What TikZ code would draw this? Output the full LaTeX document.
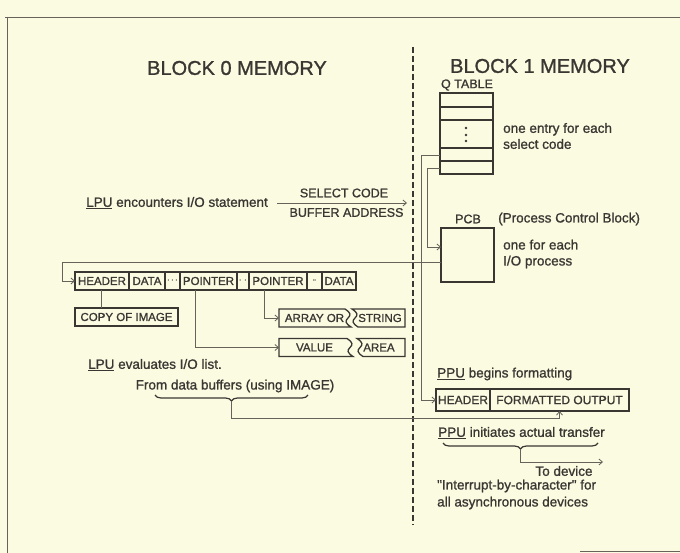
\documentclass[tikz,border=0pt]{standalone}
\usepackage{fontspec}
\setmainfont{Liberation Sans}
\newfontfamily\inkfont{Liberation Sans}[FakeBold=1.1]
\usetikzlibrary{arrows.meta, positioning, calc, decorations.pathreplacing}
\definecolor{paper}{HTML}{FBFBE2}
\definecolor{ink}{HTML}{3A3632}
\definecolor{wirec}{HTML}{67635B}

\begin{document}
\begin{tikzpicture}[x=1pt, y=-1pt, >={Straight Barb[length=3.5pt,width=6pt]},
    txt/.style={font=\inkfont\fontsize{13.5}{16}\selectfont, text=ink, inner sep=0pt, align=left},
    captxt/.style={font=\inkfont\fontsize{12.5}{15}\selectfont, text=ink, inner sep=0pt},
    ttl/.style={font=\inkfont\fontsize{20}{24}\selectfont, text=ink, inner sep=0pt},
    cell/.style={draw=ink, line width=1.3pt, inner sep=0pt, outer sep=0pt, minimum height=18pt,
                 font=\inkfont\fontsize{11.5}{13}\selectfont, text=ink},
    wire/.style={draw=wirec, line width=0.8pt},
    hbrace/.style={draw=ink, line width=1.2pt, decorate, decoration={brace, mirror, amplitude=6pt}}]
    \fill[paper] (0,0) rectangle (680,553);
    \useasboundingbox (0,0) rectangle (680,553);

    % page frame and the memory divider
    \draw[wirec, line width=0.9pt] (5,17) -- (680,17);
    \draw[wirec, line width=0.9pt] (7,17) -- (7,553);
    \draw[wirec, line width=0.9pt] (580,551) -- (680,551);
    \draw[ink, line width=1.3pt, dash pattern=on 6pt off 3pt] (413,47) -- (413,525);

    \node[ttl] (blk0) at (237,68) {BLOCK 0 MEMORY};
    \node[ttl] (blk1) at (540,66) {BLOCK 1 MEMORY};

    % Q table
    \node[captxt] (qlab) at (467,85) {Q TABLE};
    \node[cell, minimum width=53pt, minimum height=81pt] (qtab) at (466.5,133.5) {};
    \foreach \ry in {107,120,148,161}
        \draw[ink, line width=1.3pt] (qtab.west |- 0,\ry) -- (qtab.east |- 0,\ry);
    \foreach \dy in {128,135,141}
        \fill[ink] (466,\dy) circle (1.4pt);
    \node[txt, anchor=west] (qnote) at (503,136) {one entry for each\\select code};

    % PCB
    \node[captxt] (pcblab) at (468,219) {PCB};
    \node[txt, anchor=west] (pcbname) at (498,219) {(Process Control Block)};
    \node[cell, minimum width=53pt, minimum height=54pt] (pcb) at (467.5,255) {};
    \node[txt, anchor=west] (pcbnote) at (503,254) {one for each\\I/O process};

    % LPU side
    \node[txt, anchor=east] (lpuenc) at (268,203) {\underline{LPU} encounters I/O statement};
    \coordinate (selend) at (407,203);
    \draw[wire, ->] (lpuenc.east) ++(9,0) -- (selend);
    \node[captxt] (selc) at (344,193) {SELECT CODE};
    \node[captxt] (bufa) at (346.5,212.5) {BUFFER ADDRESS};

    \node[cell, minimum width=54pt] (hdr) at (102,281) {HEADER};
    \node[cell, minimum width=36pt, right=0pt of hdr] (dat1) {DATA};
    \node[cell, minimum width=15pt, right=0pt of dat1] (gap1) {$\cdot\!\cdot\!\cdot$};
    \node[cell, minimum width=57pt, right=0pt of gap1] (ptr1) {POINTER};
    \node[cell, minimum width=12pt, right=0pt of ptr1] (gap2) {$\cdot\,\cdot$};
    \node[cell, minimum width=58pt, right=0pt of gap2] (ptr2) {POINTER};
    \node[cell, minimum width=15pt, right=0pt of ptr2] (gap3) {$\cdot\!\cdot$};
    \node[cell, minimum width=34pt, right=0pt of gap3] (dat2) {DATA};

    \node[cell, minimum width=103pt] (copy) at (126.5,317) {COPY OF IMAGE};

    \node[cell, draw=none, minimum width=71pt] (arr) at (314.5,318) {ARRAY OR};
    \node[cell, draw=none, minimum width=50pt] (str) at (380,318) {STRING};
    \node[cell, draw=none, minimum width=71pt] (val) at (314.5,347.5) {VALUE};
    \node[cell, draw=none, minimum width=48pt] (area) at (379,347.5) {AREA};
    % broken ends of the variable areas
    \draw[ink, line width=1.3pt] (279,309) -- (345,309) .. controls (351,313) and (351,315) .. (348,318)
        .. controls (345,321) and (345,323) .. (351,327) -- (279,327) -- cycle;
    \draw[ink, line width=1.3pt] (405,309) -- (352,309) .. controls (358,313) and (358,315) .. (355,318)
        .. controls (352,321) and (352,323) .. (358,327) -- (405,327) -- cycle;
    \draw[ink, line width=1.3pt] (279,338.5) -- (347,338.5) .. controls (353,342.5) and (353,344.5) .. (350,347.5)
        .. controls (347,350.5) and (347,352.5) .. (353,356.5) -- (279,356.5) -- cycle;
    \draw[ink, line width=1.3pt] (405,338.5) -- (357,338.5) .. controls (363,342.5) and (363,344.5) .. (360,347.5)
        .. controls (357,350.5) and (357,352.5) .. (363,356.5) -- (405,356.5) -- cycle;

    \draw[wire] (hdr.south -| 101,0) -- (copy.north -| 101,0);
    \draw[wire, ->] (ptr1.south -| 195,0) |- (val.west);
    \draw[wire, ->] (ptr2.south -| 264,0) |- (arr.west);

    \node[txt, anchor=west] (lpuev) at (88,365) {\underline{LPU} evaluates I/O list.};
    \node[txt] (fromb) at (235,386) {From data buffers (using IMAGE)};
    \draw[hbrace] (155,395) -- (308,395);
    \coordinate (btip) at (231.5,401);

    % PPU side
    \node[txt, anchor=west] (ppub) at (437,374) {\underline{PPU} begins formatting};
    \node[cell, minimum width=54pt, minimum height=22pt, font=\inkfont\fontsize{12}{14}\selectfont] (ohdr) at (463,400) {HEADER};
    \node[cell, minimum width=139pt, minimum height=22pt, font=\inkfont\fontsize{12}{14}\selectfont, right=0pt of ohdr] (fmt) {FORMATTED OUTPUT};

    \node[txt, anchor=west] (ppui) at (438,433) {\underline{PPU} initiates actual transfer};
    \draw[hbrace] (443,443) -- (598,443);
    \coordinate (btip2) at (520.5,449);
    \coordinate (dev) at (603,462);
    \node[txt] (todev) at (564,471) {To device};
    \node[txt, anchor=west] (intr) at (437,486) {"Interrupt-by-character" for};
    \node[txt, anchor=west] (asyn) at (437,503) {all asynchronous devices};

    % links
    \draw[wire, ->] (qtab.west |- 0,155) -- (421,155) |- (ohdr.west);
    \draw[wire, ->] (qtab.west |- 0,168) -- (427,168) |- (pcb.west |- 0,247);
    \draw[wire, ->] (pcb.west |- 0,262) -- (62,262) |- (hdr.west);
    \draw[wire, ->] (btip) -- (231.5,418) -| (fmt.south);
    \draw[wire, ->] (btip2) |- (dev);
\end{tikzpicture}
\end{document}
